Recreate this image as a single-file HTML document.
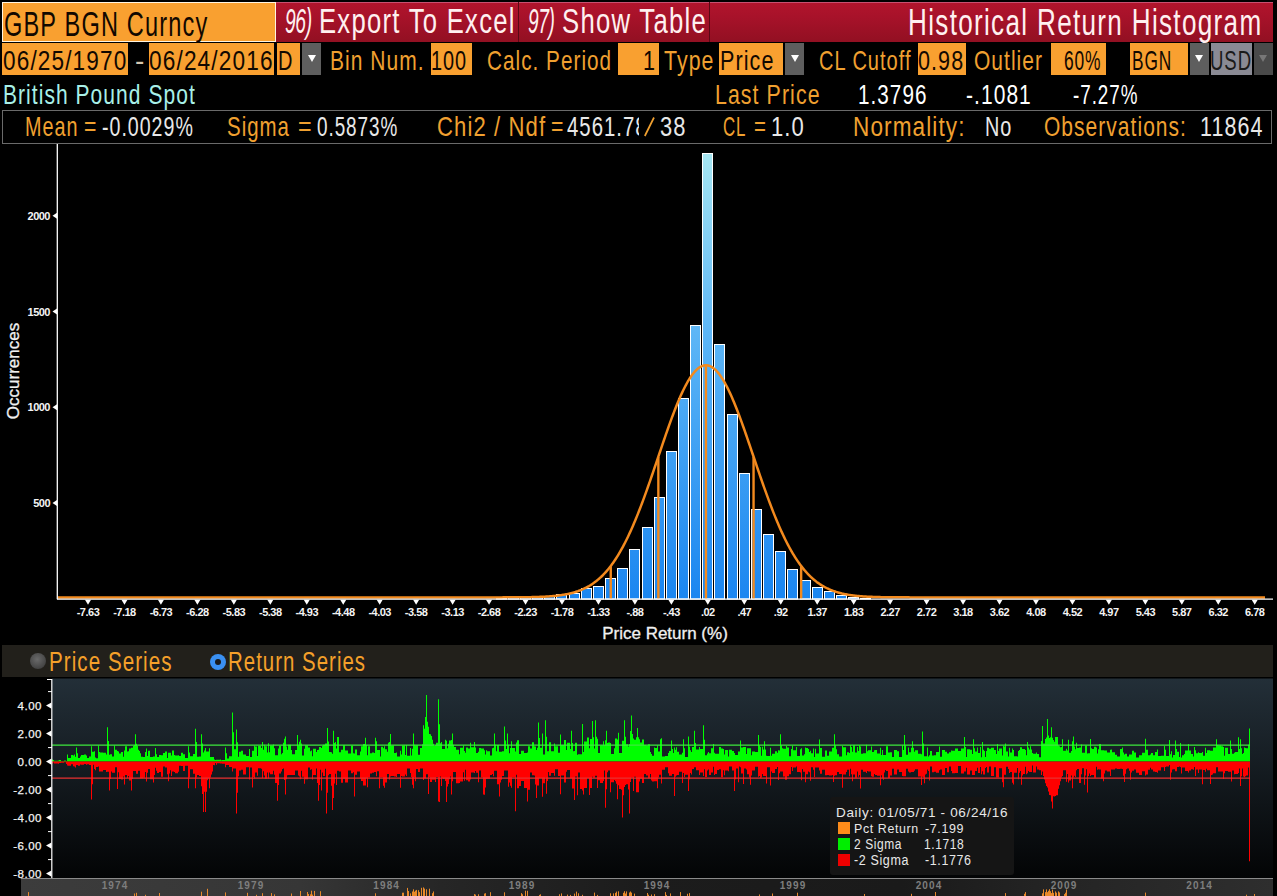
<!DOCTYPE html>
<html><head><meta charset="utf-8"><style>
html,body{margin:0;padding:0;background:#000;width:1277px;height:896px;overflow:hidden;position:relative}
.t{position:absolute;white-space:nowrap;font-family:"Liberation Sans",sans-serif;transform-origin:0 0}
svg text{font-family:"Liberation Sans",sans-serif}
.ax{font-size:11px;font-weight:bold;letter-spacing:-0.5px;fill:#F4F4F4}
.ax2{font-size:11.5px;letter-spacing:0.5px;fill:#F4F4F4;stroke:#F4F4F4;stroke-width:0.25px}
.axt{font-size:17px;fill:#F0F0F0;stroke:#F0F0F0;stroke-width:0.3px}
.yr{font-size:10px;font-weight:bold;letter-spacing:1.1px;fill:#7E7E7E}
</style></head><body>
<div style="position:absolute;left:2px;top:2px;width:274px;height:40px;background:#F9A030;box-sizing:border-box;border:1px solid #FFF4E0;"></div>
<div style="position:absolute;left:276px;top:2px;width:997px;height:40px;background:linear-gradient(#C85070 0px,#C85070 1px,#B0142C 1.5px,#A8122A 14px,#921022 40px);"></div>
<div style="position:absolute;left:518px;top:2px;width:1px;height:40px;background:#5A0814;"></div>
<div style="position:absolute;left:709px;top:2px;width:1px;height:40px;background:#5A0814;"></div>
<div class="t" style="left:3.82px;top:5.64px;font-size:35.36px;line-height:35.36px;color:#120800;transform:scaleX(0.6658);letter-spacing:1.77px;">GBP BGN Curncy</div>
<div class="t" style="left:284.63px;top:4.48px;font-size:34.49px;line-height:34.49px;color:#FFF0F0;transform:scaleX(0.5596);letter-spacing:-0.69px;font-style:italic;">96)</div>
<div class="t" style="left:318.95px;top:4.48px;font-size:34.49px;line-height:34.49px;color:#FFF0F0;transform:scaleX(0.7432);letter-spacing:1.72px;">Export To Excel</div>
<div class="t" style="left:527.74px;top:4.48px;font-size:34.49px;line-height:34.49px;color:#FFF0F0;transform:scaleX(0.5574);letter-spacing:-0.69px;font-style:italic;">97)</div>
<div class="t" style="left:561.72px;top:4.48px;font-size:34.49px;line-height:34.49px;color:#FFF0F0;transform:scaleX(0.7450);letter-spacing:1.72px;">Show Table</div>
<div class="t" style="left:907.91px;top:4.80px;font-size:36.23px;line-height:36.23px;color:#FFF0F0;transform:scaleX(0.7209);letter-spacing:1.81px;">Historical Return Histogram</div>
<div style="position:absolute;left:2px;top:43px;width:125.5px;height:32px;background:#F9A030;"></div>
<div style="position:absolute;left:148.5px;top:43px;width:125.5px;height:32px;background:#F9A030;"></div>
<div style="position:absolute;left:277px;top:43px;width:23px;height:32px;background:#F9A030;"></div>
<div style="position:absolute;left:302px;top:43px;width:19px;height:32px;background:#5E5E5E;"></div>
<div style="position:absolute;left:431px;top:43px;width:40.5px;height:32px;background:#F9A030;"></div>
<div style="position:absolute;left:618px;top:43px;width:41px;height:32px;background:#F9A030;"></div>
<div style="position:absolute;left:719px;top:43px;width:64px;height:32px;background:#F9A030;"></div>
<div style="position:absolute;left:785px;top:43px;width:19px;height:32px;background:#5E5E5E;"></div>
<div style="position:absolute;left:918px;top:43px;width:48px;height:32px;background:#F9A030;"></div>
<div style="position:absolute;left:1051px;top:43px;width:54.5px;height:32px;background:#F9A030;"></div>
<div style="position:absolute;left:1130px;top:43px;width:57.5px;height:32px;background:#F9A030;"></div>
<div style="position:absolute;left:1190px;top:43px;width:18.5px;height:32px;background:#5E5E5E;"></div>
<div style="position:absolute;left:1211px;top:43px;width:40.5px;height:32px;background:#8A8A94;"></div>
<div style="position:absolute;left:1254px;top:43px;width:18.5px;height:32px;background:#4A4A4A;"></div>
<div style="position:absolute;left:307.5px;top:55px;width:0;height:0;border-left:4px solid transparent;border-right:4px solid transparent;border-top:7px solid #FFFFFF;"></div>
<div style="position:absolute;left:790.5px;top:55px;width:0;height:0;border-left:4px solid transparent;border-right:4px solid transparent;border-top:7px solid #FFFFFF;"></div>
<div style="position:absolute;left:1195.3px;top:55px;width:0;height:0;border-left:4px solid transparent;border-right:4px solid transparent;border-top:7px solid #FFFFFF;"></div>
<div style="position:absolute;left:1259.3px;top:55px;width:0;height:0;border-left:4px solid transparent;border-right:4px solid transparent;border-top:7px solid #777;"></div>
<div class="t" style="left:3.20px;top:46.85px;font-size:27.83px;line-height:27.83px;color:#120800;transform:scaleX(0.8116);letter-spacing:1.39px;">06/25/1970</div>
<div class="t" style="left:134.88px;top:46.85px;font-size:27.83px;line-height:27.83px;color:#D8C8B0;transform:scaleX(1.0062);letter-spacing:1.39px;">-</div>
<div class="t" style="left:149.49px;top:46.85px;font-size:27.83px;line-height:27.83px;color:#120800;transform:scaleX(0.8138);letter-spacing:1.39px;">06/24/2016</div>
<div class="t" style="left:278.40px;top:46.85px;font-size:27.83px;line-height:27.83px;color:#120800;transform:scaleX(0.7187);letter-spacing:1.39px;">D</div>
<div class="t" style="left:330.32px;top:46.85px;font-size:27.83px;line-height:27.83px;color:#F0A030;transform:scaleX(0.7539);letter-spacing:1.39px;">Bin Num.</div>
<div class="t" style="left:431.41px;top:46.85px;font-size:27.83px;line-height:27.83px;color:#120800;transform:scaleX(0.7144);letter-spacing:1.39px;">100</div>
<div class="t" style="left:487.27px;top:46.85px;font-size:27.83px;line-height:27.83px;color:#F0A030;transform:scaleX(0.7438);letter-spacing:1.39px;">Calc. Period</div>
<div class="t" style="left:642.97px;top:46.85px;font-size:27.83px;line-height:27.83px;color:#120800;transform:scaleX(0.7773);letter-spacing:1.39px;">1</div>
<div class="t" style="left:663.97px;top:46.85px;font-size:27.83px;line-height:27.83px;color:#F0A030;transform:scaleX(0.7667);letter-spacing:1.39px;">Type</div>
<div class="t" style="left:720.07px;top:46.85px;font-size:27.83px;line-height:27.83px;color:#120800;transform:scaleX(0.7753);letter-spacing:1.39px;">Price</div>
<div class="t" style="left:818.50px;top:46.85px;font-size:27.83px;line-height:27.83px;color:#F0A030;transform:scaleX(0.7195);letter-spacing:1.39px;">CL Cutoff</div>
<div class="t" style="left:917.64px;top:46.85px;font-size:27.83px;line-height:27.83px;color:#120800;transform:scaleX(0.7742);letter-spacing:1.39px;">0.98</div>
<div class="t" style="left:973.95px;top:46.85px;font-size:27.83px;line-height:27.83px;color:#F0A030;transform:scaleX(0.7527);letter-spacing:1.39px;">Outlier</div>
<div class="t" style="left:1064.13px;top:46.85px;font-size:27.83px;line-height:27.83px;color:#120800;transform:scaleX(0.6258);letter-spacing:1.39px;">60%</div>
<div class="t" style="left:1132.32px;top:46.85px;font-size:27.83px;line-height:27.83px;color:#120800;transform:scaleX(0.6212);letter-spacing:1.39px;">BGN</div>
<div class="t" style="left:1209.91px;top:46.85px;font-size:27.83px;line-height:27.83px;color:#1A1A1A;transform:scaleX(0.6672);letter-spacing:1.39px;">USD</div>
<div class="t" style="left:3.02px;top:80.85px;font-size:27.83px;line-height:27.83px;color:#A8F0E8;transform:scaleX(0.7545);letter-spacing:1.39px;">British Pound Spot</div>
<div class="t" style="left:715.29px;top:80.85px;font-size:27.83px;line-height:27.83px;color:#F0A030;transform:scaleX(0.7670);letter-spacing:1.39px;">Last Price</div>
<div class="t" style="left:858.14px;top:80.85px;font-size:27.83px;line-height:27.83px;color:#FFFFFF;transform:scaleX(0.7436);letter-spacing:1.39px;">1.3796</div>
<div class="t" style="left:966.16px;top:80.85px;font-size:27.83px;line-height:27.83px;color:#FFFFFF;transform:scaleX(0.7547);letter-spacing:1.39px;">-.1081</div>
<div class="t" style="left:1072.75px;top:80.85px;font-size:27.83px;line-height:27.83px;color:#FFFFFF;transform:scaleX(0.6768);letter-spacing:1.39px;">-7.27%</div>
<div style="position:absolute;left:2px;top:110px;width:1270px;height:34px;background:#000;box-sizing:border-box;border:1px solid #6A6A6A;"></div>
<div class="t" style="left:24.72px;top:112.77px;font-size:27.68px;line-height:27.68px;color:#F0A030;transform:scaleX(0.7153);letter-spacing:1.38px;">Mean</div>
<div class="t" style="left:83.54px;top:112.77px;font-size:27.68px;line-height:27.68px;color:#F0A030;transform:scaleX(0.7667);letter-spacing:1.38px;">=</div>
<div class="t" style="left:101.61px;top:112.77px;font-size:27.68px;line-height:27.68px;color:#E8E8E8;transform:scaleX(0.7090);letter-spacing:1.38px;">-0.0029%</div>
<div class="t" style="left:227.18px;top:112.77px;font-size:27.68px;line-height:27.68px;color:#F0A030;transform:scaleX(0.7382);letter-spacing:1.38px;">Sigma</div>
<div class="t" style="left:298.44px;top:112.77px;font-size:27.68px;line-height:27.68px;color:#F0A030;transform:scaleX(0.8405);letter-spacing:1.38px;">=</div>
<div class="t" style="left:316.74px;top:112.77px;font-size:27.68px;line-height:27.68px;color:#E8E8E8;transform:scaleX(0.6835);letter-spacing:1.38px;">0.5873%</div>
<div class="t" style="left:436.80px;top:112.77px;font-size:27.68px;line-height:27.68px;color:#F0A030;transform:scaleX(0.7977);letter-spacing:1.38px;">Chi2 / Ndf</div>
<div class="t" style="left:550.54px;top:112.77px;font-size:27.68px;line-height:27.68px;color:#F0A030;transform:scaleX(0.7667);letter-spacing:1.38px;">=</div>
<div style="position:absolute;left:560px;top:112px;width:79px;height:30px;overflow:hidden"><div class="t" style="left:7.19px;top:0.77px;font-size:27.68px;line-height:27.68px;color:#E8E8E8;transform:scaleX(0.7356);letter-spacing:1.38px;">4561.78</div></div>
<svg style="position:absolute;left:0;top:0" width="1277" height="150"><line x1="644.8" y1="136" x2="654" y2="117.5" stroke="#F0A030" stroke-width="1.7"/></svg>
<div class="t" style="left:660.42px;top:112.77px;font-size:27.68px;line-height:27.68px;color:#E8E8E8;transform:scaleX(0.7928);letter-spacing:1.38px;">38</div>
<div class="t" style="left:723.15px;top:112.77px;font-size:27.68px;line-height:27.68px;color:#F0A030;transform:scaleX(0.6118);letter-spacing:1.38px;">CL</div>
<div class="t" style="left:753.98px;top:112.77px;font-size:27.68px;line-height:27.68px;color:#F0A030;transform:scaleX(0.7373);letter-spacing:1.38px;">=</div>
<div class="t" style="left:771.04px;top:112.77px;font-size:27.68px;line-height:27.68px;color:#E8E8E8;transform:scaleX(0.7963);letter-spacing:1.38px;">1.0</div>
<div class="t" style="left:852.50px;top:112.77px;font-size:27.68px;line-height:27.68px;color:#F0A030;transform:scaleX(0.8140);letter-spacing:1.38px;">Normality:</div>
<div class="t" style="left:985.41px;top:112.77px;font-size:27.68px;line-height:27.68px;color:#E8E8E8;transform:scaleX(0.7165);letter-spacing:1.38px;">No</div>
<div class="t" style="left:1043.65px;top:112.77px;font-size:27.68px;line-height:27.68px;color:#F0A030;transform:scaleX(0.7579);letter-spacing:1.38px;">Observations:</div>
<div class="t" style="left:1199.68px;top:112.77px;font-size:27.68px;line-height:27.68px;color:#E8E8E8;transform:scaleX(0.7754);letter-spacing:1.38px;">11864</div>
<div style="position:absolute;left:2px;top:645px;width:1271px;height:32px;background:#22201B;"></div><div style="position:absolute;left:29.6px;top:653.4px;width:16px;height:16px;border-radius:50%;background:radial-gradient(circle at 45% 40%,#6a6a6a,#444 70%,#2a2a2a)"></div><div style="position:absolute;left:209.6px;top:653.5px;width:16px;height:16px;border-radius:50%;background:#3A90F2;box-sizing:border-box;"></div><div style="position:absolute;left:214.6px;top:658.5px;width:6px;height:6px;border-radius:50%;background:#1A1A1A;"></div><div class="t" style="left:49.35px;top:647.50px;font-size:28.12px;line-height:28.12px;color:#F5A02A;transform:scaleX(0.7333);letter-spacing:1.41px;">Price Series</div>
<svg width="1277" height="896" style="position:absolute;left:0;top:0">
<defs><linearGradient id="bg" gradientUnits="userSpaceOnUse" x1="0" y1="153" x2="0" y2="599"><stop offset="0" stop-color="#A6E6F2"/><stop offset="0.4" stop-color="#5DB6F6"/><stop offset="1" stop-color="#1B86F0"/></linearGradient><linearGradient id="lg" x1="0" y1="0" x2="0" y2="1"><stop offset="0" stop-color="#232F38"/><stop offset="1" stop-color="#030405"/></linearGradient></defs>
<rect x="496.50" y="598.50" width="10" height="0.50" fill="url(#bg)" stroke="#FFFFFF" stroke-width="1"/>
<rect x="508.50" y="597.50" width="10" height="1.50" fill="url(#bg)" stroke="#FFFFFF" stroke-width="1"/>
<rect x="520.50" y="597.50" width="10" height="1.50" fill="url(#bg)" stroke="#FFFFFF" stroke-width="1"/>
<rect x="532.50" y="597.50" width="10" height="1.50" fill="url(#bg)" stroke="#FFFFFF" stroke-width="1"/>
<rect x="544.50" y="596.50" width="10" height="2.50" fill="url(#bg)" stroke="#FFFFFF" stroke-width="1"/>
<rect x="556.50" y="594.50" width="10" height="4.50" fill="url(#bg)" stroke="#FFFFFF" stroke-width="1"/>
<rect x="569.50" y="593.50" width="10" height="5.50" fill="url(#bg)" stroke="#FFFFFF" stroke-width="1"/>
<rect x="581.50" y="588.50" width="10" height="10.50" fill="url(#bg)" stroke="#FFFFFF" stroke-width="1"/>
<rect x="593.50" y="586.50" width="10" height="12.50" fill="url(#bg)" stroke="#FFFFFF" stroke-width="1"/>
<rect x="605.50" y="578.50" width="10" height="20.50" fill="url(#bg)" stroke="#FFFFFF" stroke-width="1"/>
<rect x="617.50" y="568.50" width="10" height="30.50" fill="url(#bg)" stroke="#FFFFFF" stroke-width="1"/>
<rect x="629.50" y="549.50" width="10" height="49.50" fill="url(#bg)" stroke="#FFFFFF" stroke-width="1"/>
<rect x="642.50" y="527.50" width="10" height="71.50" fill="url(#bg)" stroke="#FFFFFF" stroke-width="1"/>
<rect x="654.50" y="497.50" width="10" height="101.50" fill="url(#bg)" stroke="#FFFFFF" stroke-width="1"/>
<rect x="666.50" y="451.50" width="10" height="147.50" fill="url(#bg)" stroke="#FFFFFF" stroke-width="1"/>
<rect x="678.50" y="398.50" width="10" height="200.50" fill="url(#bg)" stroke="#FFFFFF" stroke-width="1"/>
<rect x="690.50" y="325.50" width="10" height="273.50" fill="url(#bg)" stroke="#FFFFFF" stroke-width="1"/>
<rect x="702.50" y="153.50" width="10" height="445.50" fill="url(#bg)" stroke="#FFFFFF" stroke-width="1"/>
<rect x="714.50" y="344.50" width="10" height="254.50" fill="url(#bg)" stroke="#FFFFFF" stroke-width="1"/>
<rect x="727.50" y="414.50" width="10" height="184.50" fill="url(#bg)" stroke="#FFFFFF" stroke-width="1"/>
<rect x="739.50" y="473.50" width="10" height="125.50" fill="url(#bg)" stroke="#FFFFFF" stroke-width="1"/>
<rect x="751.50" y="509.50" width="10" height="89.50" fill="url(#bg)" stroke="#FFFFFF" stroke-width="1"/>
<rect x="763.50" y="534.50" width="10" height="64.50" fill="url(#bg)" stroke="#FFFFFF" stroke-width="1"/>
<rect x="775.50" y="551.50" width="10" height="47.50" fill="url(#bg)" stroke="#FFFFFF" stroke-width="1"/>
<rect x="787.50" y="569.50" width="10" height="29.50" fill="url(#bg)" stroke="#FFFFFF" stroke-width="1"/>
<rect x="800.50" y="580.50" width="10" height="18.50" fill="url(#bg)" stroke="#FFFFFF" stroke-width="1"/>
<rect x="812.50" y="587.50" width="10" height="11.50" fill="url(#bg)" stroke="#FFFFFF" stroke-width="1"/>
<rect x="824.50" y="591.50" width="10" height="7.50" fill="url(#bg)" stroke="#FFFFFF" stroke-width="1"/>
<rect x="836.50" y="595.50" width="10" height="3.50" fill="url(#bg)" stroke="#FFFFFF" stroke-width="1"/>
<rect x="848.50" y="597.50" width="10" height="1.50" fill="url(#bg)" stroke="#FFFFFF" stroke-width="1"/>
<rect x="860.50" y="598.50" width="10" height="0.50" fill="url(#bg)" stroke="#FFFFFF" stroke-width="1"/>
<polyline points="58,597.40 59,597.40 60,597.40 61,597.40 62,597.40 63,597.40 64,597.40 65,597.40 66,597.40 67,597.40 68,597.40 69,597.40 70,597.40 71,597.40 72,597.40 73,597.40 74,597.40 75,597.40 76,597.40 77,597.40 78,597.40 79,597.40 80,597.40 81,597.40 82,597.40 83,597.40 84,597.40 85,597.40 86,597.40 87,597.40 88,597.40 89,597.40 90,597.40 91,597.40 92,597.40 93,597.40 94,597.40 95,597.40 96,597.40 97,597.40 98,597.40 99,597.40 100,597.40 101,597.40 102,597.40 103,597.40 104,597.40 105,597.40 106,597.40 107,597.40 108,597.40 109,597.40 110,597.40 111,597.40 112,597.40 113,597.40 114,597.40 115,597.40 116,597.40 117,597.40 118,597.40 119,597.40 120,597.40 121,597.40 122,597.40 123,597.40 124,597.40 125,597.40 126,597.40 127,597.40 128,597.40 129,597.40 130,597.40 131,597.40 132,597.40 133,597.40 134,597.40 135,597.40 136,597.40 137,597.40 138,597.40 139,597.40 140,597.40 141,597.40 142,597.40 143,597.40 144,597.40 145,597.40 146,597.40 147,597.40 148,597.40 149,597.40 150,597.40 151,597.40 152,597.40 153,597.40 154,597.40 155,597.40 156,597.40 157,597.40 158,597.40 159,597.40 160,597.40 161,597.40 162,597.40 163,597.40 164,597.40 165,597.40 166,597.40 167,597.40 168,597.40 169,597.40 170,597.40 171,597.40 172,597.40 173,597.40 174,597.40 175,597.40 176,597.40 177,597.40 178,597.40 179,597.40 180,597.40 181,597.40 182,597.40 183,597.40 184,597.40 185,597.40 186,597.40 187,597.40 188,597.40 189,597.40 190,597.40 191,597.40 192,597.40 193,597.40 194,597.40 195,597.40 196,597.40 197,597.40 198,597.40 199,597.40 200,597.40 201,597.40 202,597.40 203,597.40 204,597.40 205,597.40 206,597.40 207,597.40 208,597.40 209,597.40 210,597.40 211,597.40 212,597.40 213,597.40 214,597.40 215,597.40 216,597.40 217,597.40 218,597.40 219,597.40 220,597.40 221,597.40 222,597.40 223,597.40 224,597.40 225,597.40 226,597.40 227,597.40 228,597.40 229,597.40 230,597.40 231,597.40 232,597.40 233,597.40 234,597.40 235,597.40 236,597.40 237,597.40 238,597.40 239,597.40 240,597.40 241,597.40 242,597.40 243,597.40 244,597.40 245,597.40 246,597.40 247,597.40 248,597.40 249,597.40 250,597.40 251,597.40 252,597.40 253,597.40 254,597.40 255,597.40 256,597.40 257,597.40 258,597.40 259,597.40 260,597.40 261,597.40 262,597.40 263,597.40 264,597.40 265,597.40 266,597.40 267,597.40 268,597.40 269,597.40 270,597.40 271,597.40 272,597.40 273,597.40 274,597.40 275,597.40 276,597.40 277,597.40 278,597.40 279,597.40 280,597.40 281,597.40 282,597.40 283,597.40 284,597.40 285,597.40 286,597.40 287,597.40 288,597.40 289,597.40 290,597.40 291,597.40 292,597.40 293,597.40 294,597.40 295,597.40 296,597.40 297,597.40 298,597.40 299,597.40 300,597.40 301,597.40 302,597.40 303,597.40 304,597.40 305,597.40 306,597.40 307,597.40 308,597.40 309,597.40 310,597.40 311,597.40 312,597.40 313,597.40 314,597.40 315,597.40 316,597.40 317,597.40 318,597.40 319,597.40 320,597.40 321,597.40 322,597.40 323,597.40 324,597.40 325,597.40 326,597.40 327,597.40 328,597.40 329,597.40 330,597.40 331,597.40 332,597.40 333,597.40 334,597.40 335,597.40 336,597.40 337,597.40 338,597.40 339,597.40 340,597.40 341,597.40 342,597.40 343,597.40 344,597.40 345,597.40 346,597.40 347,597.40 348,597.40 349,597.40 350,597.40 351,597.40 352,597.40 353,597.40 354,597.40 355,597.40 356,597.40 357,597.40 358,597.40 359,597.40 360,597.40 361,597.40 362,597.40 363,597.40 364,597.40 365,597.40 366,597.40 367,597.40 368,597.40 369,597.40 370,597.40 371,597.40 372,597.40 373,597.40 374,597.40 375,597.40 376,597.40 377,597.40 378,597.40 379,597.40 380,597.40 381,597.40 382,597.40 383,597.40 384,597.40 385,597.40 386,597.40 387,597.40 388,597.40 389,597.40 390,597.40 391,597.40 392,597.40 393,597.40 394,597.40 395,597.40 396,597.40 397,597.40 398,597.40 399,597.40 400,597.40 401,597.40 402,597.40 403,597.40 404,597.40 405,597.40 406,597.40 407,597.40 408,597.40 409,597.40 410,597.40 411,597.40 412,597.40 413,597.40 414,597.40 415,597.40 416,597.40 417,597.40 418,597.40 419,597.40 420,597.40 421,597.40 422,597.40 423,597.40 424,597.40 425,597.40 426,597.40 427,597.40 428,597.40 429,597.40 430,597.40 431,597.40 432,597.40 433,597.40 434,597.40 435,597.40 436,597.40 437,597.40 438,597.40 439,597.40 440,597.40 441,597.40 442,597.40 443,597.40 444,597.40 445,597.40 446,597.40 447,597.40 448,597.40 449,597.40 450,597.40 451,597.40 452,597.40 453,597.40 454,597.40 455,597.40 456,597.40 457,597.40 458,597.40 459,597.40 460,597.40 461,597.40 462,597.40 463,597.40 464,597.40 465,597.40 466,597.40 467,597.40 468,597.40 469,597.40 470,597.40 471,597.40 472,597.40 473,597.40 474,597.40 475,597.40 476,597.40 477,597.40 478,597.40 479,597.40 480,597.40 481,597.40 482,597.40 483,597.40 484,597.40 485,597.40 486,597.39 487,597.39 488,597.39 489,597.39 490,597.39 491,597.39 492,597.39 493,597.39 494,597.39 495,597.39 496,597.39 497,597.38 498,597.38 499,597.38 500,597.38 501,597.38 502,597.38 503,597.37 504,597.37 505,597.37 506,597.37 507,597.36 508,597.36 509,597.36 510,597.35 511,597.35 512,597.34 513,597.34 514,597.33 515,597.33 516,597.32 517,597.31 518,597.30 519,597.30 520,597.29 521,597.28 522,597.27 523,597.26 524,597.24 525,597.23 526,597.22 527,597.20 528,597.19 529,597.17 530,597.15 531,597.13 532,597.11 533,597.08 534,597.06 535,597.03 536,597.00 537,596.97 538,596.94 539,596.91 540,596.87 541,596.83 542,596.78 543,596.74 544,596.69 545,596.64 546,596.58 547,596.52 548,596.46 549,596.39 550,596.32 551,596.24 552,596.16 553,596.07 554,595.98 555,595.88 556,595.77 557,595.66 558,595.55 559,595.42 560,595.29 561,595.15 562,595.00 563,594.85 564,594.68 565,594.50 566,594.32 567,594.12 568,593.92 569,593.70 570,593.47 571,593.23 572,592.97 573,592.70 574,592.42 575,592.12 576,591.81 577,591.48 578,591.14 579,590.77 580,590.39 581,590.00 582,589.58 583,589.14 584,588.68 585,588.20 586,587.70 587,587.17 588,586.62 589,586.05 590,585.45 591,584.83 592,584.18 593,583.50 594,582.79 595,582.05 596,581.29 597,580.49 598,579.66 599,578.80 600,577.90 601,576.98 602,576.01 603,575.01 604,573.98 605,572.90 606,571.79 607,570.65 608,569.46 609,568.23 610,566.96 611,565.65 612,564.30 613,562.91 614,561.47 615,559.99 616,558.47 617,556.90 618,555.29 619,553.63 620,551.93 621,550.18 622,548.39 623,546.55 624,544.66 625,542.73 626,540.76 627,538.74 628,536.67 629,534.56 630,532.40 631,530.20 632,527.96 633,525.67 634,523.34 635,520.96 636,518.55 637,516.10 638,513.60 639,511.07 640,508.50 641,505.90 642,503.26 643,500.58 644,497.88 645,495.14 646,492.38 647,489.59 648,486.77 649,483.93 650,481.06 651,478.18 652,475.28 653,472.37 654,469.44 655,466.50 656,463.56 657,460.60 658,457.65 659,454.69 660,451.73 661,448.78 662,445.84 663,442.90 664,439.98 665,437.08 666,434.19 667,431.32 668,428.48 669,425.67 670,422.88 671,420.13 672,417.41 673,414.74 674,412.10 675,409.51 676,406.97 677,404.48 678,402.04 679,399.66 680,397.34 681,395.08 682,392.89 683,390.76 684,388.70 685,386.72 686,384.81 687,382.98 688,381.22 689,379.55 690,377.97 691,376.46 692,375.05 693,373.73 694,372.50 695,371.36 696,370.31 697,369.36 698,368.51 699,367.76 700,367.11 701,366.55 702,366.10 703,365.75 704,365.50 705,365.35 706,365.30 707,365.36 708,365.52 709,365.78 710,366.14 711,366.61 712,367.17 713,367.84 714,368.60 715,369.46 716,370.42 717,371.48 718,372.63 719,373.87 720,375.20 721,376.63 722,378.14 723,379.73 724,381.41 725,383.17 726,385.01 727,386.93 728,388.93 729,390.99 730,393.12 731,395.33 732,397.59 733,399.92 734,402.31 735,404.75 736,407.25 737,409.80 738,412.39 739,415.03 740,417.71 741,420.43 742,423.19 743,425.97 744,428.79 745,431.64 746,434.50 747,437.39 748,440.30 749,443.23 750,446.16 751,449.11 752,452.06 753,455.01 754,457.97 755,460.93 756,463.88 757,466.83 758,469.76 759,472.69 760,475.60 761,478.50 762,481.38 763,484.24 764,487.08 765,489.89 766,492.68 767,495.44 768,498.18 769,500.88 770,503.55 771,506.18 772,508.79 773,511.35 774,513.88 775,516.37 776,518.82 777,521.23 778,523.59 779,525.92 780,528.20 781,530.44 782,532.64 783,534.79 784,536.90 785,538.96 786,540.98 787,542.95 788,544.87 789,546.75 790,548.59 791,550.37 792,552.12 793,553.81 794,555.47 795,557.07 796,558.64 797,560.15 798,561.63 799,563.06 800,564.45 801,565.80 802,567.10 803,568.37 804,569.59 805,570.77 806,571.92 807,573.02 808,574.09 809,575.12 810,576.12 811,577.08 812,578.00 813,578.89 814,579.75 815,580.58 816,581.37 817,582.14 818,582.87 819,583.57 820,584.25 821,584.90 822,585.52 823,586.11 824,586.69 825,587.23 826,587.75 827,588.25 828,588.73 829,589.19 830,589.62 831,590.04 832,590.44 833,590.82 834,591.18 835,591.52 836,591.85 837,592.16 838,592.45 839,592.73 840,593.00 841,593.25 842,593.50 843,593.72 844,593.94 845,594.15 846,594.34 847,594.52 848,594.70 849,594.86 850,595.02 851,595.17 852,595.30 853,595.44 854,595.56 855,595.68 856,595.79 857,595.89 858,595.99 859,596.08 860,596.17 861,596.25 862,596.32 863,596.40 864,596.46 865,596.53 866,596.59 867,596.64 868,596.69 869,596.74 870,596.79 871,596.83 872,596.87 873,596.91 874,596.94 875,596.98 876,597.01 877,597.04 878,597.06 879,597.09 880,597.11 881,597.13 882,597.15 883,597.17 884,597.19 885,597.20 886,597.22 887,597.23 888,597.25 889,597.26 890,597.27 891,597.28 892,597.29 893,597.30 894,597.31 895,597.31 896,597.32 897,597.33 898,597.33 899,597.34 900,597.34 901,597.35 902,597.35 903,597.36 904,597.36 905,597.36 906,597.37 907,597.37 908,597.37 909,597.37 910,597.38 911,597.38 912,597.38 913,597.38 914,597.38 915,597.38 916,597.39 917,597.39 918,597.39 919,597.39 920,597.39 921,597.39 922,597.39 923,597.39 924,597.39 925,597.39 926,597.39 927,597.40 928,597.40 929,597.40 930,597.40 931,597.40 932,597.40 933,597.40 934,597.40 935,597.40 936,597.40 937,597.40 938,597.40 939,597.40 940,597.40 941,597.40 942,597.40 943,597.40 944,597.40 945,597.40 946,597.40 947,597.40 948,597.40 949,597.40 950,597.40 951,597.40 952,597.40 953,597.40 954,597.40 955,597.40 956,597.40 957,597.40 958,597.40 959,597.40 960,597.40 961,597.40 962,597.40 963,597.40 964,597.40 965,597.40 966,597.40 967,597.40 968,597.40 969,597.40 970,597.40 971,597.40 972,597.40 973,597.40 974,597.40 975,597.40 976,597.40 977,597.40 978,597.40 979,597.40 980,597.40 981,597.40 982,597.40 983,597.40 984,597.40 985,597.40 986,597.40 987,597.40 988,597.40 989,597.40 990,597.40 991,597.40 992,597.40 993,597.40 994,597.40 995,597.40 996,597.40 997,597.40 998,597.40 999,597.40 1000,597.40 1001,597.40 1002,597.40 1003,597.40 1004,597.40 1005,597.40 1006,597.40 1007,597.40 1008,597.40 1009,597.40 1010,597.40 1011,597.40 1012,597.40 1013,597.40 1014,597.40 1015,597.40 1016,597.40 1017,597.40 1018,597.40 1019,597.40 1020,597.40 1021,597.40 1022,597.40 1023,597.40 1024,597.40 1025,597.40 1026,597.40 1027,597.40 1028,597.40 1029,597.40 1030,597.40 1031,597.40 1032,597.40 1033,597.40 1034,597.40 1035,597.40 1036,597.40 1037,597.40 1038,597.40 1039,597.40 1040,597.40 1041,597.40 1042,597.40 1043,597.40 1044,597.40 1045,597.40 1046,597.40 1047,597.40 1048,597.40 1049,597.40 1050,597.40 1051,597.40 1052,597.40 1053,597.40 1054,597.40 1055,597.40 1056,597.40 1057,597.40 1058,597.40 1059,597.40 1060,597.40 1061,597.40 1062,597.40 1063,597.40 1064,597.40 1065,597.40 1066,597.40 1067,597.40 1068,597.40 1069,597.40 1070,597.40 1071,597.40 1072,597.40 1073,597.40 1074,597.40 1075,597.40 1076,597.40 1077,597.40 1078,597.40 1079,597.40 1080,597.40 1081,597.40 1082,597.40 1083,597.40 1084,597.40 1085,597.40 1086,597.40 1087,597.40 1088,597.40 1089,597.40 1090,597.40 1091,597.40 1092,597.40 1093,597.40 1094,597.40 1095,597.40 1096,597.40 1097,597.40 1098,597.40 1099,597.40 1100,597.40 1101,597.40 1102,597.40 1103,597.40 1104,597.40 1105,597.40 1106,597.40 1107,597.40 1108,597.40 1109,597.40 1110,597.40 1111,597.40 1112,597.40 1113,597.40 1114,597.40 1115,597.40 1116,597.40 1117,597.40 1118,597.40 1119,597.40 1120,597.40 1121,597.40 1122,597.40 1123,597.40 1124,597.40 1125,597.40 1126,597.40 1127,597.40 1128,597.40 1129,597.40 1130,597.40 1131,597.40 1132,597.40 1133,597.40 1134,597.40 1135,597.40 1136,597.40 1137,597.40 1138,597.40 1139,597.40 1140,597.40 1141,597.40 1142,597.40 1143,597.40 1144,597.40 1145,597.40 1146,597.40 1147,597.40 1148,597.40 1149,597.40 1150,597.40 1151,597.40 1152,597.40 1153,597.40 1154,597.40 1155,597.40 1156,597.40 1157,597.40 1158,597.40 1159,597.40 1160,597.40 1161,597.40 1162,597.40 1163,597.40 1164,597.40 1165,597.40 1166,597.40 1167,597.40 1168,597.40 1169,597.40 1170,597.40 1171,597.40 1172,597.40 1173,597.40 1174,597.40 1175,597.40 1176,597.40 1177,597.40 1178,597.40 1179,597.40 1180,597.40 1181,597.40 1182,597.40 1183,597.40 1184,597.40 1185,597.40 1186,597.40 1187,597.40 1188,597.40 1189,597.40 1190,597.40 1191,597.40 1192,597.40 1193,597.40 1194,597.40 1195,597.40 1196,597.40 1197,597.40 1198,597.40 1199,597.40 1200,597.40 1201,597.40 1202,597.40 1203,597.40 1204,597.40 1205,597.40 1206,597.40 1207,597.40 1208,597.40 1209,597.40 1210,597.40 1211,597.40 1212,597.40 1213,597.40 1214,597.40 1215,597.40 1216,597.40 1217,597.40 1218,597.40 1219,597.40 1220,597.40 1221,597.40 1222,597.40 1223,597.40 1224,597.40 1225,597.40 1226,597.40 1227,597.40 1228,597.40 1229,597.40 1230,597.40 1231,597.40 1232,597.40 1233,597.40 1234,597.40 1235,597.40 1236,597.40 1237,597.40 1238,597.40 1239,597.40 1240,597.40 1241,597.40 1242,597.40 1243,597.40 1244,597.40 1245,597.40 1246,597.40 1247,597.40 1248,597.40 1249,597.40 1250,597.40 1251,597.40 1252,597.40 1253,597.40 1254,597.40 1255,597.40 1256,597.40 1257,597.40 1258,597.40 1259,597.40 1260,597.40 1261,597.40 1262,597.40 1263,597.40 1264,597.40 1265,597.40" fill="none" stroke="#F38A1E" stroke-width="2.5"/>
<line x1="610.75" y1="566.39" x2="610.75" y2="598.8" stroke="#F38A1E" stroke-width="2.4"/>
<line x1="658.35" y1="457.03" x2="658.35" y2="598.8" stroke="#F38A1E" stroke-width="2.4"/>
<line x1="705.95" y1="365.70" x2="705.95" y2="598.8" stroke="#F38A1E" stroke-width="2.4"/>
<line x1="753.55" y1="457.03" x2="753.55" y2="598.8" stroke="#F38A1E" stroke-width="2.4"/>
<line x1="801.15" y1="566.39" x2="801.15" y2="598.8" stroke="#F38A1E" stroke-width="2.4"/>
<line x1="57.3" y1="144" x2="57.3" y2="599.3" stroke="#FFFFFF" stroke-width="1.3"/>
<line x1="57" y1="599.1999999999999" x2="1273" y2="599.1999999999999" stroke="#FFFFFF" stroke-width="1.3"/>
<path d="M52.5,503.05 L57,500.05 L57,506.05 Z" fill="#FFFFFF"/>
<text x="50" y="507.05" text-anchor="end" class="ax">500</text>
<path d="M52.5,407.30 L57,404.30 L57,410.30 Z" fill="#FFFFFF"/>
<text x="50" y="411.30" text-anchor="end" class="ax">1000</text>
<path d="M52.5,311.55 L57,308.55 L57,314.55 Z" fill="#FFFFFF"/>
<text x="50" y="315.55" text-anchor="end" class="ax">1500</text>
<path d="M52.5,215.80 L57,212.80 L57,218.80 Z" fill="#FFFFFF"/>
<text x="50" y="219.80" text-anchor="end" class="ax">2000</text>
<path d="M85.00,599.8 L91.00,599.8 L88.00,604.8 Z" fill="#FFFFFF"/>
<text x="88.00" y="615.8" text-anchor="middle" class="ax">-7.63</text>
<path d="M121.46,599.8 L127.46,599.8 L124.46,604.8 Z" fill="#FFFFFF"/>
<text x="124.46" y="615.8" text-anchor="middle" class="ax">-7.18</text>
<path d="M157.92,599.8 L163.92,599.8 L160.92,604.8 Z" fill="#FFFFFF"/>
<text x="160.92" y="615.8" text-anchor="middle" class="ax">-6.73</text>
<path d="M194.38,599.8 L200.38,599.8 L197.38,604.8 Z" fill="#FFFFFF"/>
<text x="197.38" y="615.8" text-anchor="middle" class="ax">-6.28</text>
<path d="M230.84,599.8 L236.84,599.8 L233.84,604.8 Z" fill="#FFFFFF"/>
<text x="233.84" y="615.8" text-anchor="middle" class="ax">-5.83</text>
<path d="M267.30,599.8 L273.30,599.8 L270.30,604.8 Z" fill="#FFFFFF"/>
<text x="270.30" y="615.8" text-anchor="middle" class="ax">-5.38</text>
<path d="M303.76,599.8 L309.76,599.8 L306.76,604.8 Z" fill="#FFFFFF"/>
<text x="306.76" y="615.8" text-anchor="middle" class="ax">-4.93</text>
<path d="M340.22,599.8 L346.22,599.8 L343.22,604.8 Z" fill="#FFFFFF"/>
<text x="343.22" y="615.8" text-anchor="middle" class="ax">-4.48</text>
<path d="M376.68,599.8 L382.68,599.8 L379.68,604.8 Z" fill="#FFFFFF"/>
<text x="379.68" y="615.8" text-anchor="middle" class="ax">-4.03</text>
<path d="M413.14,599.8 L419.14,599.8 L416.14,604.8 Z" fill="#FFFFFF"/>
<text x="416.14" y="615.8" text-anchor="middle" class="ax">-3.58</text>
<path d="M449.60,599.8 L455.60,599.8 L452.60,604.8 Z" fill="#FFFFFF"/>
<text x="452.60" y="615.8" text-anchor="middle" class="ax">-3.13</text>
<path d="M486.06,599.8 L492.06,599.8 L489.06,604.8 Z" fill="#FFFFFF"/>
<text x="489.06" y="615.8" text-anchor="middle" class="ax">-2.68</text>
<path d="M522.52,599.8 L528.52,599.8 L525.52,604.8 Z" fill="#FFFFFF"/>
<text x="525.52" y="615.8" text-anchor="middle" class="ax">-2.23</text>
<path d="M558.98,599.8 L564.98,599.8 L561.98,604.8 Z" fill="#FFFFFF"/>
<text x="561.98" y="615.8" text-anchor="middle" class="ax">-1.78</text>
<path d="M595.44,599.8 L601.44,599.8 L598.44,604.8 Z" fill="#FFFFFF"/>
<text x="598.44" y="615.8" text-anchor="middle" class="ax">-1.33</text>
<path d="M631.90,599.8 L637.90,599.8 L634.90,604.8 Z" fill="#FFFFFF"/>
<text x="634.90" y="615.8" text-anchor="middle" class="ax">-.88</text>
<path d="M668.36,599.8 L674.36,599.8 L671.36,604.8 Z" fill="#FFFFFF"/>
<text x="671.36" y="615.8" text-anchor="middle" class="ax">-.43</text>
<path d="M704.82,599.8 L710.82,599.8 L707.82,604.8 Z" fill="#FFFFFF"/>
<text x="707.82" y="615.8" text-anchor="middle" class="ax">.02</text>
<path d="M741.28,599.8 L747.28,599.8 L744.28,604.8 Z" fill="#FFFFFF"/>
<text x="744.28" y="615.8" text-anchor="middle" class="ax">.47</text>
<path d="M777.74,599.8 L783.74,599.8 L780.74,604.8 Z" fill="#FFFFFF"/>
<text x="780.74" y="615.8" text-anchor="middle" class="ax">.92</text>
<path d="M814.20,599.8 L820.20,599.8 L817.20,604.8 Z" fill="#FFFFFF"/>
<text x="817.20" y="615.8" text-anchor="middle" class="ax">1.37</text>
<path d="M850.66,599.8 L856.66,599.8 L853.66,604.8 Z" fill="#FFFFFF"/>
<text x="853.66" y="615.8" text-anchor="middle" class="ax">1.83</text>
<path d="M887.12,599.8 L893.12,599.8 L890.12,604.8 Z" fill="#FFFFFF"/>
<text x="890.12" y="615.8" text-anchor="middle" class="ax">2.27</text>
<path d="M923.58,599.8 L929.58,599.8 L926.58,604.8 Z" fill="#FFFFFF"/>
<text x="926.58" y="615.8" text-anchor="middle" class="ax">2.72</text>
<path d="M960.04,599.8 L966.04,599.8 L963.04,604.8 Z" fill="#FFFFFF"/>
<text x="963.04" y="615.8" text-anchor="middle" class="ax">3.18</text>
<path d="M996.50,599.8 L1002.50,599.8 L999.50,604.8 Z" fill="#FFFFFF"/>
<text x="999.50" y="615.8" text-anchor="middle" class="ax">3.62</text>
<path d="M1032.96,599.8 L1038.96,599.8 L1035.96,604.8 Z" fill="#FFFFFF"/>
<text x="1035.96" y="615.8" text-anchor="middle" class="ax">4.08</text>
<path d="M1069.42,599.8 L1075.42,599.8 L1072.42,604.8 Z" fill="#FFFFFF"/>
<text x="1072.42" y="615.8" text-anchor="middle" class="ax">4.52</text>
<path d="M1105.88,599.8 L1111.88,599.8 L1108.88,604.8 Z" fill="#FFFFFF"/>
<text x="1108.88" y="615.8" text-anchor="middle" class="ax">4.97</text>
<path d="M1142.34,599.8 L1148.34,599.8 L1145.34,604.8 Z" fill="#FFFFFF"/>
<text x="1145.34" y="615.8" text-anchor="middle" class="ax">5.43</text>
<path d="M1178.80,599.8 L1184.80,599.8 L1181.80,604.8 Z" fill="#FFFFFF"/>
<text x="1181.80" y="615.8" text-anchor="middle" class="ax">5.87</text>
<path d="M1215.26,599.8 L1221.26,599.8 L1218.26,604.8 Z" fill="#FFFFFF"/>
<text x="1218.26" y="615.8" text-anchor="middle" class="ax">6.32</text>
<path d="M1251.72,599.8 L1257.72,599.8 L1254.72,604.8 Z" fill="#FFFFFF"/>
<text x="1254.72" y="615.8" text-anchor="middle" class="ax">6.78</text>
<text x="665" y="638.5" text-anchor="middle" class="axt">Price Return (%)</text>
<text transform="translate(18.5,371) rotate(-90)" text-anchor="middle" class="axt">Occurrences</text>
<rect x="52" y="678.5" width="1221" height="199.5" fill="url(#lg)"/>
<path d="M52,761.6V759.5H53V759.9H54V760.8H55V760.8H56V760.8H57V760.8H58V760.6H59V759.9H60V759.9H61V761.0H62V761.0H63V761.0H64V760.5H65V760.5H66V760.9H67V754.5H68V757.9H69V757.9H70V757.9H71V754.9H72V754.9H73V755.4H74V754.6H75V756.7H76V747.6H77V753.2H78V758.1H79V758.1H80V756.6H81V755.1H82V755.1H83V755.1H84V754.5H85V754.5H86V755.5H87V757.9H88V757.9H89V756.4H90V756.4H91V746.2H92V751.7H93V751.7H94V751.2H95V757.6H96V758.3H97V758.3H98V745.6H99V752.0H100V752.5H101V752.5H102V752.5H103V752.7H104V752.7H105V752.7H106V754.4H107V727.2H108V740.9H109V754.8H110V754.3H111V754.3H112V756.4H113V756.4H114V745.4H115V749.8H116V749.8H117V750.9H118V751.6H119V753.6H120V753.6H121V752.1H122V752.1H123V756.8H124V750.5H125V746.3H126V746.3H127V751.4H128V751.3H129V748.6H130V748.6H131V747.8H132V747.8H133V746.1H134V744.9H135V734.3H136V743.8H137V746.1H138V749.7H139V750.9H140V753.2H141V756.8H142V756.8H143V757.1H144V757.1H145V752.1H146V748.4H147V756.1H148V750.7H149V750.7H150V757.0H151V757.0H152V757.0H153V756.5H154V756.5H155V748.0H156V754.2H157V757.0H158V757.0H159V755.0H160V755.0H161V755.3H162V755.3H163V753.1H164V753.1H165V751.6H166V751.6H167V758.1H168V752.8H169V752.8H170V752.8H171V755.4H172V750.5H173V750.5H174V755.1H175V755.4H176V755.4H177V755.4H178V755.2H179V756.1H180V756.1H181V752.8H182V752.8H183V754.2H184V754.2H185V758.0H186V758.0H187V758.0H188V746.2H189V752.4H190V756.2H191V756.2H192V756.2H193V753.9H194V753.9H195V728.7H196V741.9H197V756.8H198V756.8H199V756.4H200V756.4H201V734.3H202V743.6H203V752.5H204V750.6H205V748.0H206V751.6H207V751.6H208V751.6H209V748.3H210V756.9H211V757.1H212V757.1H213V757.1H214V759.5H215V760.0H216V759.8H217V759.7H218V759.7H219V759.7H220V759.4H221V760.2H222V760.0H223V760.0H224V760.0H225V747.6H226V753.2H227V758.6H228V758.6H229V756.2H230V756.2H231V756.2H232V712.6H233V732.2H234V749.2H235V749.2H236V729.4H237V742.3H238V756.8H239V751.7H240V751.7H241V750.7H242V750.7H243V754.4H244V754.4H245V754.4H246V756.0H247V756.0H248V756.0H249V749.0H250V756.9H251V756.9H252V750.7H253V750.7H254V745.8H255V746.6H256V746.6H257V756.1H258V746.1H259V746.1H260V746.1H261V748.0H262V742.0H263V749.8H264V744.8H265V746.2H266V746.2H267V752.5H268V743.3H269V752.3H270V745.5H271V745.5H272V745.5H273V744.6H274V748.2H275V755.2H276V755.2H277V755.2H278V748.4H279V745.7H280V745.7H281V754.3H282V752.9H283V742.7H284V738.8H285V736.4H286V746.5H287V749.8H288V744.8H289V744.8H290V744.8H291V750.1H292V754.2H293V754.2H294V754.2H295V749.9H296V749.9H297V735.0H298V745.6H299V741.8H300V739.7H301V743.6H302V755.5H303V755.5H304V748.7H305V745.2H306V745.2H307V745.2H308V747.5H309V747.5H310V751.2H311V750.5H312V756.3H313V748.8H314V748.8H315V748.8H316V752.0H317V749.9H318V749.7H319V747.0H320V747.0H321V748.0H322V746.1H323V744.8H324V744.8H325V743.4H326V743.4H327V728.0H328V741.4H329V751.9H330V751.9H331V752.3H332V753.8H333V730.8H334V743.1H335V742.1H336V748.6H337V737.0H338V737.0H339V752.2H340V752.2H341V749.8H342V749.8H343V745.3H344V745.3H345V750.6H346V750.6H347V750.6H348V753.4H349V753.4H350V753.4H351V745.7H352V745.7H353V753.3H354V753.4H355V749.6H356V749.6H357V755.3H358V755.3H359V755.3H360V751.5H361V746.2H362V746.2H363V744.1H364V744.1H365V737.8H366V745.0H367V755.2H368V746.2H369V746.2H370V753.2H371V753.2H372V752.4H373V752.4H374V752.9H375V737.8H376V741.2H377V750.1H378V750.1H379V750.1H380V756.5H381V746.8H382V746.8H383V748.2H384V746.3H385V749.2H386V749.2H387V751.7H388V742.7H389V742.1H390V734.0H391V745.6H392V745.6H393V745.6H394V753.1H395V753.1H396V752.4H397V756.5H398V756.5H399V756.5H400V750.7H401V754.4H402V745.6H403V745.6H404V745.6H405V754.9H406V745.1H407V755.7H408V755.7H409V755.7H410V748.0H411V755.4H412V748.8H413V733.6H414V744.8H415V745.6H416V745.2H417V745.2H418V754.7H419V754.7H420V748.0H421V748.0H422V744.3H423V725.2H424V728.7H425V717.1H426V695.1H427V721.7H428V726.7H429V734.1H430V734.3H431V735.9H432V739.8H433V743.7H434V746.0H435V744.9H436V742.7H437V742.7H438V699.3H439V724.2H440V743.3H441V742.0H442V749.0H443V749.0H444V749.0H445V739.8H446V740.7H447V748.2H448V743.8H449V740.6H450V740.6H451V740.1H452V733.6H453V744.8H454V746.9H455V746.9H456V749.8H457V749.8H458V749.8H459V754.2H460V747.7H461V747.7H462V747.7H463V745.4H464V750.9H465V752.7H466V747.5H467V747.5H468V748.5H469V748.5H470V742.8H471V747.3H472V747.3H473V747.3H474V742.1H475V747.6H476V753.0H477V753.0H478V751.7H479V747.9H480V747.9H481V748.4H482V748.4H483V748.4H484V750.3H485V754.6H486V750.2H487V751.2H488V751.2H489V751.2H490V755.6H491V755.6H492V748.2H493V747.7H494V733.6H495V744.8H496V751.2H497V745.1H498V745.1H499V751.8H500V751.8H501V751.8H502V751.2H503V751.2H504V726.6H505V740.6H506V749.1H507V733.6H508V744.8H509V753.2H510V748.1H511V741.2H512V748.0H513V748.0H514V748.0H515V751.5H516V742.6H517V740.3H518V740.3H519V754.1H520V754.1H521V750.8H522V750.8H523V750.8H524V753.0H525V753.0H526V753.0H527V752.4H528V746.2H529V746.2H530V748.5H531V748.5H532V742.3H533V742.3H534V746.2H535V746.4H536V750.0H537V747.8H538V722.4H539V738.1H540V747.7H541V747.7H542V733.5H543V754.4H544V754.4H545V720.3H546V736.8H547V751.3H548V751.3H549V742.3H550V742.3H551V751.2H552V751.2H553V751.2H554V743.5H555V746.2H556V746.2H557V746.2H558V752.8H559V752.8H560V734.5H561V744.9H562V744.9H563V744.9H564V740.0H565V740.0H566V750.0H567V742.8H568V742.8H569V742.8H570V748.9H571V730.8H572V743.1H573V751.2H574V751.0H575V742.7H576V742.7H577V754.7H578V754.2H579V754.2H580V754.2H581V754.2H582V724.1H583V751.9H584V741.5H585V741.5H586V741.5H587V737.5H588V737.5H589V748.2H590V738.9H591V738.9H592V721.0H593V737.2H594V748.6H595V720.3H596V736.8H597V738.8H598V752.9H599V752.9H600V745.2H601V745.2H602V745.2H603V741.2H604V745.1H605V740.2H606V730.8H607V743.1H608V742.4H609V742.4H610V743.0H611V753.9H612V753.9H613V753.9H614V748.3H615V738.6H616V738.6H617V739.5H618V732.7H619V753.1H620V753.1H621V753.1H622V740.7H623V740.7H624V720.3H625V736.8H626V744.2H627V744.2H628V746.6H629V743.9H630V731.1H631V715.4H632V733.9H633V738.4H634V739.8H635V739.8H636V737.3H637V728.0H638V737.3H639V739.2H640V742.5H641V742.5H642V739.6H643V739.6H644V744.9H645V744.9H646V745.5H647V745.5H648V744.3H649V744.3H650V752.1H651V754.1H652V755.8H653V755.8H654V747.4H655V747.9H656V747.9H657V745.6H658V751.5H659V751.5H660V739.2H661V738.2H662V756.5H663V756.5H664V756.5H665V756.0H666V756.0H667V756.0H668V752.9H669V751.0H670V751.0H671V740.6H672V749.0H673V753.0H674V747.5H675V749.8H676V747.3H677V751.8H678V751.8H679V754.5H680V754.5H681V754.5H682V752.7H683V739.2H684V748.2H685V757.1H686V757.1H687V757.1H688V736.4H689V746.5H690V750.3H691V752.0H692V747.0H693V747.0H694V730.8H695V743.1H696V749.6H697V749.6H698V749.6H699V747.1H700V749.0H701V749.0H702V749.0H703V725.2H704V739.8H705V755.3H706V755.3H707V753.6H708V751.9H709V753.3H710V753.3H711V748.3H712V748.3H713V744.0H714V752.7H715V753.8H716V753.8H717V753.8H718V753.8H719V746.9H720V746.9H721V748.6H722V748.6H723V749.0H724V754.4H725V750.0H726V750.0H727V750.0H728V756.6H729V749.8H730V749.8H731V749.8H732V750.9H733V750.9H734V752.9H735V754.9H736V754.9H737V754.9H738V751.4H739V751.5H740V740.6H741V747.4H742V747.4H743V747.0H744V747.1H745V747.1H746V754.0H747V748.2H748V748.2H749V748.2H750V748.2H751V755.3H752V751.6H753V751.6H754V751.6H755V751.9H756V751.9H757V751.9H758V735.0H759V745.6H760V747.1H761V755.8H762V746.8H763V749.4H764V741.3H765V749.4H766V755.7H767V756.0H768V756.0H769V756.0H770V747.7H771V755.7H772V753.8H773V753.8H774V753.8H775V751.3H776V751.3H777V752.7H778V750.2H779V750.4H780V734.3H781V745.2H782V748.3H783V748.7H784V748.7H785V748.7H786V746.0H787V747.5H788V747.5H789V756.3H790V756.3H791V749.1H792V745.8H793V750.2H794V750.2H795V750.2H796V747.0H797V756.0H798V756.0H799V756.0H800V749.2H801V748.2H802V755.4H803V755.5H804V754.3H805V747.5H806V747.9H807V747.9H808V749.0H809V752.1H810V750.8H811V753.2H812V753.2H813V748.4H814V756.9H815V748.7H816V753.6H817V753.6H818V753.6H819V739.4H820V747.9H821V747.9H822V756.8H823V756.8H824V756.8H825V750.6H826V750.6H827V755.8H828V755.8H829V751.6H830V751.6H831V751.6H832V747.8H833V747.8H834V734.3H835V745.2H836V749.2H837V754.3H838V754.3H839V756.5H840V756.5H841V756.5H842V746.0H843V747.2H844V747.2H845V747.2H846V755.2H847V752.3H848V752.3H849V752.9H850V745.0H851V746.9H852V751.8H853V745.2H854V745.2H855V752.6H856V752.6H857V746.9H858V751.1H859V745.4H860V746.5H861V753.8H862V753.8H863V753.2H864V753.2H865V753.2H866V744.8H867V751.2H868V750.2H869V750.2H870V750.2H871V746.6H872V751.9H873V751.9H874V750.3H875V750.1H876V750.1H877V753.6H878V753.6H879V753.6H880V747.8H881V755.0H882V749.9H883V754.9H884V754.9H885V754.9H886V746.3H887V746.3H888V752.5H889V752.5H890V752.3H891V752.3H892V757.0H893V757.0H894V749.9H895V749.9H896V749.9H897V751.2H898V751.2H899V757.1H900V757.1H901V757.1H902V745.5H903V750.1H904V735.0H905V745.6H906V754.7H907V754.7H908V747.6H909V752.3H910V752.3H911V747.8H912V741.3H913V747.8H914V751.8H915V750.2H916V750.2H917V750.2H918V753.7H919V753.7H920V753.7H921V754.2H922V731.5H923V743.5H924V756.2H925V756.2H926V756.2H927V747.6H928V756.6H929V755.3H930V750.9H931V750.9H932V755.4H933V755.4H934V755.2H935V755.2H936V752.1H937V752.1H938V752.1H939V746.5H940V756.7H941V756.7H942V749.9H943V749.9H944V749.9H945V751.8H946V751.8H947V753.6H948V753.6H949V752.3H950V752.3H951V750.6H952V750.7H953V750.7H954V750.7H955V748.4H956V748.4H957V748.4H958V750.9H959V750.9H960V750.9H961V748.6H962V748.6H963V748.6H964V737.1H965V746.9H966V756.9H967V749.3H968V749.3H969V749.3H970V749.7H971V749.7H972V754.1H973V739.2H974V748.2H975V751.4H976V751.4H977V747.5H978V753.1H979V753.1H980V747.0H981V757.3H982V742.0H983V749.8H984V751.1H985V757.1H986V750.9H987V747.8H988V747.8H989V748.7H990V748.7H991V747.8H992V747.8H993V747.8H994V749.9H995V749.9H996V753.9H997V744.1H998V751.1H999V748.4H1000V748.4H1001V748.4H1002V755.6H1003V745.9H1004V746.6H1005V743.6H1006V751.4H1007V751.4H1008V756.6H1009V747.8H1010V752.4H1011V752.4H1012V748.5H1013V750.1H1014V756.2H1015V756.2H1016V756.2H1017V756.5H1018V750.9H1019V750.0H1020V747.2H1021V747.2H1022V748.9H1023V748.9H1024V748.9H1025V750.0H1026V755.3H1027V742.1H1028V747.5H1029V749.6H1030V746.2H1031V749.6H1032V753.0H1033V753.7H1034V753.7H1035V753.7H1036V752.5H1037V753.9H1038V753.9H1039V757.2H1040V757.2H1041V741.1H1042V726.0H1043V743.6H1044V743.6H1045V739.0H1046V737.5H1047V718.9H1048V735.4H1049V737.9H1050V737.2H1051V727.3H1052V737.7H1053V739.9H1054V741.8H1055V737.1H1056V737.1H1057V737.1H1058V745.3H1059V746.2H1060V747.2H1061V747.0H1062V739.2H1063V750.7H1064V750.7H1065V750.7H1066V748.8H1067V750.5H1068V739.7H1069V752.8H1070V752.8H1071V751.0H1072V741.3H1073V736.4H1074V746.5H1075V749.2H1076V742.7H1077V747.9H1078V747.9H1079V747.5H1080V747.5H1081V744.5H1082V752.8H1083V752.8H1084V752.8H1085V745.6H1086V745.6H1087V753.6H1088V753.3H1089V753.3H1090V739.0H1091V748.2H1092V749.0H1093V749.0H1094V746.8H1095V746.8H1096V747.6H1097V753.5H1098V749.2H1099V744.1H1100V744.1H1101V750.2H1102V750.2H1103V750.2H1104V750.4H1105V750.4H1106V750.4H1107V752.6H1108V752.6H1109V752.6H1110V749.7H1111V749.6H1112V752.2H1113V752.2H1114V752.2H1115V754.8H1116V754.8H1117V756.4H1118V756.4H1119V756.4H1120V749.1H1121V749.1H1122V747.4H1123V752.5H1124V754.4H1125V753.8H1126V753.8H1127V756.6H1128V756.6H1129V754.6H1130V754.6H1131V754.6H1132V750.7H1133V750.7H1134V752.5H1135V752.5H1136V757.5H1137V757.5H1138V757.5H1139V755.2H1140V755.2H1141V755.2H1142V752.8H1143V752.8H1144V752.8H1145V738.8H1146V749.7H1147V749.7H1148V755.3H1149V755.3H1150V754.5H1151V753.0H1152V753.0H1153V755.3H1154V755.3H1155V751.9H1156V751.9H1157V749.4H1158V756.1H1159V756.1H1160V756.1H1161V755.8H1162V755.8H1163V755.8H1164V746.1H1165V749.7H1166V756.0H1167V756.0H1168V756.0H1169V739.9H1170V754.2H1171V751.2H1172V757.4H1173V755.0H1174V755.0H1175V740.6H1176V749.0H1177V751.7H1178V751.7H1179V757.1H1180V743.1H1181V757.6H1182V755.2H1183V755.2H1184V754.1H1185V750.4H1186V750.4H1187V750.4H1188V743.9H1189V750.4H1190V750.4H1191V754.1H1192V754.1H1193V756.6H1194V747.0H1195V750.3H1196V753.3H1197V753.3H1198V752.3H1199V753.1H1200V753.1H1201V753.1H1202V752.0H1203V755.7H1204V755.7H1205V747.7H1206V753.0H1207V750.3H1208V750.3H1209V750.3H1210V750.7H1211V750.7H1212V750.7H1213V747.4H1214V747.4H1215V747.4H1216V739.2H1217V745.0H1218V745.4H1219V745.4H1220V745.4H1221V746.3H1222V746.3H1223V747.1H1224V755.8H1225V747.7H1226V747.7H1227V747.7H1228V754.0H1229V754.0H1230V740.6H1231V749.0H1232V753.8H1233V753.8H1234V752.7H1235V751.9H1236V751.9H1237V751.9H1238V737.3H1239V748.9H1240V739.2H1241V748.2H1242V754.0H1243V752.9H1244V747.5H1245V748.0H1246V748.3H1247V748.3H1248V744.7H1249V728.6H1250V761.6Z" fill="#00FF00"/>
<path d="M52,761.6V763.6H53V762.4H54V763.5H55V763.5H56V763.5H57V763.5H58V763.8H59V763.1H60V763.1H61V762.8H62V762.8H63V762.8H64V762.2H65V762.2H66V764.1H67V765.5H68V765.8H69V765.8H70V765.8H71V764.3H72V764.3H73V766.2H74V766.6H75V767.6H76V765.1H77V765.1H78V765.7H79V765.7H80V764.5H81V764.7H82V764.7H83V764.7H84V764.1H85V764.1H86V764.7H87V764.2H88V764.2H89V764.9H90V764.9H91V799.4H92V784.3H93V764.7H94V769.1H95V770.2H96V766.9H97V766.9H98V766.5H99V771.5H100V771.5H101V771.5H102V771.5H103V769.9H104V769.9H105V769.9H106V771.9H107V771.7H108V771.7H109V790.4H110V778.9H111V771.5H112V772.8H113V772.8H114V772.8H115V767.3H116V767.3H117V789.1H118V772.3H119V779.0H120V779.0H121V779.5H122V779.5H123V776.4H124V784.5H125V775.1H126V775.1H127V778.0H128V776.0H129V780.5H130V780.5H131V790.4H132V778.9H133V771.1H134V771.1H135V771.1H136V773.7H137V773.7H138V770.8H139V770.8H140V778.3H141V778.3H142V778.3H143V777.8H144V777.8H145V772.0H146V781.6H147V772.8H148V768.9H149V768.9H150V779.3H151V779.3H152V779.3H153V782.6H154V774.9H155V767.7H156V770.8H157V773.1H158V773.1H159V772.0H160V772.0H161V776.7H162V776.7H163V766.6H164V766.6H165V767.4H166V767.4H167V774.2H168V781.2H169V773.4H170V770.3H171V775.9H172V771.6H173V771.6H174V771.9H175V773.3H176V773.3H177V773.3H178V771.7H179V765.8H180V765.8H181V766.1H182V766.1H183V771.1H184V771.1H185V765.7H186V765.7H187V765.7H188V788.2H189V777.6H190V769.2H191V769.2H192V769.2H193V773.7H194V773.7H195V788.2H196V777.6H197V774.9H198V774.9H199V776.1H200V776.1H201V786.2H202V794.0H203V812.0H204V791.8H205V812.0H206V791.8H207V780.3H208V778.3H209V788.2H210V777.6H211V774.4H212V771.5H213V765.0H214V765.3H215V762.9H216V764.8H217V763.3H218V763.3H219V763.3H220V763.4H221V763.6H222V763.7H223V763.7H224V763.7H225V767.2H226V765.0H227V765.0H228V765.0H229V767.0H230V767.0H231V767.0H232V771.4H233V768.6H234V768.6H235V768.6H236V813.4H237V792.7H238V776.2H239V770.5H240V770.5H241V769.8H242V769.8H243V774.5H244V774.5H245V774.5H246V767.2H247V767.2H248V767.2H249V779.6H250V767.6H251V767.6H252V787.5H253V777.1H254V778.4H255V772.5H256V772.5H257V775.8H258V768.3H259V768.3H260V768.3H261V768.8H262V778.0H263V771.2H264V775.6H265V778.8H266V778.8H267V772.5H268V778.5H269V772.6H270V774.3H271V774.3H272V774.3H273V770.8H274V774.7H275V783.1H276V783.1H277V800.8H278V785.1H279V773.4H280V773.4H281V771.6H282V769.1H283V768.6H284V780.1H285V794.4H286V779.2H287V775.2H288V775.1H289V775.1H290V775.1H291V774.9H292V774.9H293V774.9H294V774.9H295V770.4H296V770.4H297V770.4H298V775.6H299V776.5H300V779.2H301V770.7H302V776.8H303V776.8H304V783.7H305V779.2H306V779.2H307V779.2H308V767.4H309V767.4H310V769.8H311V769.2H312V779.5H313V775.0H314V775.0H315V775.0H316V768.5H317V782.9H318V800.8H319V785.1H320V769.7H321V790.5H322V772.4H323V775.9H324V775.9H325V768.7H326V813.4H327V792.7H328V775.2H329V773.9H330V773.9H331V785.7H332V810.0H333V798.0H334V783.4H335V773.8H336V785.1H337V770.8H338V770.8H339V771.5H340V771.5H341V782.7H342V782.7H343V778.7H344V778.7H345V782.6H346V782.6H347V782.6H348V770.5H349V770.5H350V770.5H351V773.3H352V773.3H353V772.2H354V796.4H355V774.8H356V774.8H357V771.4H358V771.4H359V771.4H360V778.5H361V781.0H362V781.0H363V785.4H364V785.4H365V785.4H366V778.2H367V787.2H368V777.5H369V777.5H370V773.6H371V773.6H372V772.7H373V772.7H374V771.9H375V771.9H376V776.3H377V771.3H378V771.3H379V788.2H380V777.6H381V777.4H382V777.4H383V785.8H384V787.7H385V782.4H386V782.4H387V774.1H388V774.1H389V779.5H390V776.4H391V776.0H392V776.0H393V776.0H394V776.5H395V776.5H396V777.1H397V774.1H398V774.1H399V774.1H400V787.7H401V775.9H402V776.5H403V776.5H404V776.5H405V774.5H406V776.0H407V768.5H408V768.5H409V768.5H410V772.9H411V776.9H412V784.8H413V788.2H414V777.6H415V781.3H416V768.9H417V768.9H418V771.9H419V771.9H420V768.5H421V768.5H422V768.5H423V779.9H424V778.3H425V778.3H426V774.2H427V774.2H428V794.0H429V777.3H430V782.0H431V782.0H432V779.7H433V779.7H434V779.7H435V782.0H436V777.0H437V777.0H438V801.5H439V802.1H440V776.5H441V785.9H442V777.9H443V778.9H444V778.7H445V780.9H446V801.9H447V786.5H448V784.0H449V779.2H450V776.5H451V794.5H452V781.3H453V772.0H454V772.0H455V772.0H456V783.3H457V783.3H458V783.3H459V783.0H460V781.4H461V781.4H462V781.4H463V772.2H464V780.8H465V769.8H466V780.3H467V780.3H468V781.5H469V781.5H470V779.4H471V772.5H472V772.5H473V772.5H474V772.9H475V770.9H476V772.7H477V772.7H478V782.3H479V770.4H480V770.4H481V777.5H482V777.5H483V794.5H484V794.8H485V787.5H486V779.0H487V778.8H488V778.8H489V778.8H490V775.0H491V775.0H492V773.9H493V776.3H494V770.8H495V770.8H496V770.8H497V784.2H498V784.2H499V796.6H500V782.6H501V779.7H502V775.9H503V775.9H504V770.5H505V770.6H506V770.6H507V770.6H508V786.8H509V782.5H510V785.8H511V787.7H512V777.4H513V777.4H514V777.4H515V811.2H516V774.7H517V788.2H518V788.2H519V785.9H520V785.9H521V781.1H522V781.1H523V781.1H524V788.0H525V788.0H526V788.0H527V801.5H528V789.7H529V789.7H530V772.6H531V772.6H532V775.2H533V775.2H534V775.6H535V784.6H536V798.0H537V785.6H538V785.6H539V778.0H540V778.0H541V778.0H542V796.7H543V783.3H544V783.3H545V777.8H546V793.8H547V780.9H548V771.9H549V775.7H550V775.7H551V773.0H552V773.0H553V773.0H554V775.7H555V769.2H556V769.2H557V769.2H558V776.0H559V776.0H560V794.3H561V775.5H562V775.5H563V775.5H564V782.5H565V782.5H566V771.7H567V770.1H568V770.1H569V770.1H570V778.2H571V778.2H572V788.4H573V788.4H574V799.9H575V776.4H576V776.4H577V795.3H578V772.6H579V772.6H580V788.9H581V788.9H582V790.5H583V794.5H584V788.0H585V788.0H586V788.0H587V778.0H588V778.0H589V794.9H590V787.9H591V787.9H592V776.8H593V777.8H594V777.8H595V775.7H596V775.7H597V788.0H598V780.3H599V780.3H600V783.0H601V783.0H602V783.0H603V781.1H604V770.5H605V807.8H606V789.3H607V772.3H608V770.6H609V770.6H610V792.2H611V782.3H612V782.3H613V782.3H614V779.9H615V781.3H616V783.7H617V799.2H618V785.2H619V789.0H620V789.0H621V789.7H622V817.6H623V795.2H624V787.1H625V785.1H626V784.3H627V784.3H628V789.5H629V813.5H630V782.1H631V777.7H632V777.7H633V790.9H634V776.7H635V776.7H636V792.2H637V792.2H638V792.2H639V781.6H640V778.4H641V778.4H642V782.9H643V782.9H644V773.9H645V773.9H646V775.5H647V775.5H648V778.2H649V778.2H650V774.1H651V780.6H652V781.5H653V781.5H654V781.3H655V781.2H656V781.2H657V788.2H658V777.6H659V774.8H660V774.8H661V783.6H662V769.8H663V769.8H664V769.8H665V767.3H666V767.3H667V767.3H668V773.2H669V775.8H670V775.8H671V775.8H672V773.9H673V773.9H674V796.0H675V776.7H676V775.5H677V774.9H678V774.9H679V771.8H680V771.8H681V771.8H682V783.0H683V772.9H684V777.0H685V774.8H686V774.8H687V774.8H688V791.0H689V779.2H690V773.1H691V774.4H692V768.9H693V768.9H694V767.2H695V767.2H696V770.3H697V770.3H698V770.3H699V775.0H700V772.5H701V772.5H702V772.5H703V775.9H704V769.2H705V777.1H706V777.1H707V770.6H708V769.6H709V775.0H710V775.0H711V772.6H712V772.6H713V766.8H714V774.9H715V774.1H716V774.1H717V770.1H718V770.1H719V769.2H720V769.2H721V777.3H722V777.3H723V770.2H724V775.2H725V770.4H726V770.4H727V770.4H728V771.3H729V766.4H730V766.4H731V766.4H732V770.6H733V770.6H734V791.0H735V779.2H736V768.6H737V768.6H738V782.2H739V766.4H740V767.2H741V773.5H742V773.5H743V784.0H744V768.5H745V768.5H746V769.5H747V774.3H748V774.3H749V777.4H750V784.7H751V775.5H752V770.5H753V770.5H754V770.5H755V766.8H756V766.8H757V766.8H758V776.8H759V776.1H760V777.9H761V777.5H762V773.9H763V775.9H764V775.9H765V775.9H766V783.6H767V767.3H768V767.3H769V767.3H770V785.5H771V771.6H772V773.1H773V773.1H774V773.1H775V768.9H776V768.9H777V766.9H778V780.1H779V773.3H780V771.5H781V771.5H782V771.5H783V776.6H784V776.6H785V779.8H786V779.8H787V776.3H788V776.3H789V774.2H790V774.2H791V767.1H792V771.0H793V767.6H794V767.6H795V767.6H796V766.5H797V772.1H798V772.1H799V772.1H800V772.4H801V780.2H802V769.1H803V771.7H804V771.8H805V782.2H806V774.3H807V774.3H808V771.4H809V772.2H810V780.8H811V767.3H812V767.3H813V769.7H814V776.9H815V767.5H816V767.4H817V767.4H818V767.4H819V770.4H820V773.7H821V773.7H822V769.7H823V769.7H824V769.7H825V775.2H826V775.2H827V774.9H828V774.9H829V775.4H830V775.4H831V775.4H832V775.0H833V781.9H834V775.8H835V775.2H836V775.2H837V771.9H838V771.9H839V773.9H840V773.9H841V773.9H842V787.8H843V774.6H844V774.6H845V774.6H846V772.0H847V769.8H848V769.8H849V776.2H850V768.7H851V774.2H852V781.2H853V774.6H854V774.6H855V777.8H856V777.8H857V771.5H858V776.7H859V775.1H860V788.5H861V769.8H862V769.8H863V771.8H864V771.8H865V771.8H866V773.1H867V771.0H868V771.6H869V771.6H870V771.6H871V776.2H872V776.8H873V776.8H874V774.1H875V775.1H876V775.1H877V775.7H878V775.7H879V775.7H880V785.2H881V775.2H882V778.2H883V779.8H884V772.5H885V769.9H886V771.1H887V771.1H888V777.9H889V777.9H890V775.5H891V775.5H892V768.8H893V768.8H894V774.6H895V774.6H896V774.6H897V769.6H898V769.6H899V772.1H900V772.1H901V772.1H902V775.9H903V776.2H904V776.2H905V776.2H906V768.8H907V768.8H908V771.4H909V772.4H910V772.4H911V772.0H912V772.0H913V772.0H914V770.7H915V769.3H916V769.3H917V769.3H918V776.6H919V776.6H920V776.6H921V785.1H922V776.7H923V777.5H924V783.3H925V774.6H926V773.7H927V769.5H928V771.1H929V780.4H930V766.5H931V766.5H932V772.3H933V772.3H934V771.7H935V771.7H936V772.8H937V772.8H938V772.8H939V770.2H940V769.5H941V769.5H942V775.0H943V775.0H944V775.0H945V767.9H946V767.9H947V772.2H948V772.2H949V766.5H950V766.5H951V770.9H952V773.3H953V773.3H954V773.3H955V773.1H956V773.1H957V773.1H958V766.1H959V766.1H960V766.1H961V773.4H962V773.4H963V773.4H964V771.6H965V771.6H966V767.7H967V774.6H968V774.6H969V774.6H970V770.4H971V770.4H972V775.1H973V775.1H974V775.1H975V771.1H976V771.1H977V767.8H978V772.9H979V772.9H980V766.9H981V774.3H982V771.3H983V774.4H984V774.4H985V768.1H986V767.1H987V772.5H988V772.5H989V766.6H990V766.6H991V776.0H992V776.0H993V776.0H994V767.3H995V767.3H996V777.4H997V777.4H998V777.4H999V768.3H1000V768.3H1001V768.3H1002V782.3H1003V787.2H1004V774.8H1005V774.8H1006V766.8H1007V766.8H1008V768.9H1009V773.0H1010V772.0H1011V772.0H1012V782.8H1013V784.5H1014V772.8H1015V772.8H1016V772.8H1017V767.9H1018V779.3H1019V772.7H1020V771.0H1021V784.7H1022V775.5H1023V773.9H1024V773.9H1025V766.7H1026V774.2H1027V773.2H1028V771.0H1029V772.0H1030V772.0H1031V772.0H1032V765.4H1033V772.5H1034V772.5H1035V772.5H1036V766.6H1037V769.6H1038V769.6H1039V770.3H1040V770.3H1041V775.1H1042V771.5H1043V776.0H1044V779.5H1045V783.2H1046V786.0H1047V787.6H1048V791.4H1049V795.0H1050V795.2H1051V801.4H1052V808.5H1053V796.3H1054V796.6H1055V796.1H1056V795.2H1057V795.2H1058V788.7H1059V785.2H1060V781.2H1061V777.5H1062V776.1H1063V770.3H1064V770.3H1065V770.3H1066V781.7H1067V774.0H1068V782.6H1069V780.6H1070V780.6H1071V775.4H1072V788.2H1073V777.6H1074V775.7H1075V776.9H1076V770.2H1077V769.1H1078V769.1H1079V783.0H1080V783.0H1081V774.3H1082V768.2H1083V768.2H1084V784.7H1085V775.5H1086V769.2H1087V792.4H1088V775.9H1089V773.6H1090V775.9H1091V775.0H1092V775.0H1093V775.0H1094V777.8H1095V777.8H1096V766.8H1097V769.8H1098V769.3H1099V769.5H1100V769.5H1101V778.6H1102V778.6H1103V781.2H1104V773.4H1105V770.5H1106V770.5H1107V771.4H1108V771.4H1109V771.4H1110V775.9H1111V769.4H1112V769.6H1113V769.6H1114V769.6H1115V768.4H1116V768.4H1117V769.1H1118V769.1H1119V769.1H1120V768.8H1121V768.8H1122V769.0H1123V775.7H1124V781.9H1125V773.8H1126V769.2H1127V768.4H1128V768.4H1129V770.8H1130V779.8H1131V772.5H1132V770.7H1133V770.7H1134V769.5H1135V769.5H1136V772.8H1137V772.8H1138V772.8H1139V775.0H1140V775.0H1141V775.0H1142V771.2H1143V771.2H1144V771.2H1145V775.4H1146V774.4H1147V774.4H1148V769.7H1149V769.7H1150V767.7H1151V769.5H1152V769.5H1153V771.6H1154V771.6H1155V771.9H1156V771.9H1157V772.7H1158V770.5H1159V770.5H1160V770.5H1161V767.2H1162V767.2H1163V767.2H1164V771.1H1165V767.1H1166V766.6H1167V766.6H1168V766.6H1169V765.1H1170V779.8H1171V772.5H1172V769.6H1173V769.3H1174V769.3H1175V771.2H1176V771.2H1177V766.9H1178V766.9H1179V766.5H1180V767.0H1181V773.4H1182V767.6H1183V767.6H1184V767.5H1185V771.0H1186V771.0H1187V771.0H1188V772.6H1189V770.6H1190V770.6H1191V769.3H1192V769.3H1193V769.8H1194V767.1H1195V775.9H1196V769.5H1197V769.5H1198V773.1H1199V769.4H1200V769.4H1201V769.4H1202V784.2H1203V769.9H1204V769.9H1205V771.7H1206V768.7H1207V770.2H1208V770.2H1209V770.2H1210V784.0H1211V775.0H1212V774.4H1213V773.3H1214V773.3H1215V773.3H1216V767.3H1217V767.3H1218V771.6H1219V771.6H1220V771.6H1221V771.4H1222V771.4H1223V779.1H1224V773.3H1225V770.9H1226V770.9H1227V770.9H1228V771.8H1229V771.8H1230V771.8H1231V781.5H1232V770.4H1233V770.4H1234V774.2H1235V773.9H1236V773.9H1237V773.9H1238V773.0H1239V768.5H1240V786.1H1241V776.3H1242V768.6H1243V776.5H1244V777.2H1245V776.2H1246V775.4H1247V775.4H1248V767.5H1249V861.3H1250V761.6Z" fill="#FF0000"/>
<line x1="52" y1="745.2" x2="1250" y2="745.2" stroke="#3EE83E" stroke-width="1.2"/>
<line x1="52" y1="778.1" x2="1250" y2="778.1" stroke="#E83030" stroke-width="1.2"/>
<line x1="51.8" y1="679" x2="51.8" y2="878" stroke="#FFFFFF" stroke-width="1.2"/>
<path d="M46,873.60 L51.5,870.40 L51.5,876.80 Z" fill="#FFFFFF"/>
<text x="42" y="877.70" text-anchor="end" class="ax2">-8.00</text>
<line x1="48" y1="859.60" x2="52" y2="859.60" stroke="#FFFFFF" stroke-width="1"/>
<path d="M46,845.60 L51.5,842.40 L51.5,848.80 Z" fill="#FFFFFF"/>
<text x="42" y="849.70" text-anchor="end" class="ax2">-6.00</text>
<line x1="48" y1="831.60" x2="52" y2="831.60" stroke="#FFFFFF" stroke-width="1"/>
<path d="M46,817.60 L51.5,814.40 L51.5,820.80 Z" fill="#FFFFFF"/>
<text x="42" y="821.70" text-anchor="end" class="ax2">-4.00</text>
<line x1="48" y1="803.60" x2="52" y2="803.60" stroke="#FFFFFF" stroke-width="1"/>
<path d="M46,789.60 L51.5,786.40 L51.5,792.80 Z" fill="#FFFFFF"/>
<text x="42" y="793.70" text-anchor="end" class="ax2">-2.00</text>
<line x1="48" y1="775.60" x2="52" y2="775.60" stroke="#FFFFFF" stroke-width="1"/>
<path d="M46,761.60 L51.5,758.40 L51.5,764.80 Z" fill="#FFFFFF"/>
<text x="42" y="765.70" text-anchor="end" class="ax2">0.00</text>
<line x1="48" y1="747.60" x2="52" y2="747.60" stroke="#FFFFFF" stroke-width="1"/>
<path d="M46,733.60 L51.5,730.40 L51.5,736.80 Z" fill="#FFFFFF"/>
<text x="42" y="737.70" text-anchor="end" class="ax2">2.00</text>
<line x1="48" y1="719.60" x2="52" y2="719.60" stroke="#FFFFFF" stroke-width="1"/>
<path d="M46,705.60 L51.5,702.40 L51.5,708.80 Z" fill="#FFFFFF"/>
<text x="42" y="709.70" text-anchor="end" class="ax2">4.00</text>
<line x1="48" y1="691.60" x2="52" y2="691.60" stroke="#FFFFFF" stroke-width="1"/>
<line x1="47" y1="679.5" x2="52" y2="679.5" stroke="#FFFFFF" stroke-width="1"/>
</svg>
<div class="t" style="left:228.37px;top:647.50px;font-size:28.12px;line-height:28.12px;color:#F5A02A;transform:scaleX(0.7259);letter-spacing:1.41px;">Return Series</div><div style="position:absolute;left:830px;top:797px;width:184px;height:78px;background:#161616;border-radius:3px;opacity:0.97"></div><div style="position:absolute;left:838px;top:822px;width:12px;height:12px;background:#FF8C1A;"></div><div style="position:absolute;left:838px;top:838px;width:12px;height:12px;background:#00EE00;"></div><div style="position:absolute;left:838px;top:854px;width:12px;height:12px;background:#EE0000;"></div><div class="t" style="left:836.12px;top:806.32px;font-size:13.62px;line-height:13.62px;color:#E8E8E8;transform:scaleX(0.9919);letter-spacing:0.68px;">Daily: 01/05/71 - 06/24/16</div><div class="t" style="left:853.51px;top:821.82px;font-size:13.62px;line-height:13.62px;color:#E8E8E8;transform:scaleX(0.9121);letter-spacing:0.68px;">Pct Return</div><div class="t" style="left:924.50px;top:821.82px;font-size:13.62px;line-height:13.62px;color:#E8E8E8;transform:scaleX(0.9176);letter-spacing:0.68px;">-7.199</div><div class="t" style="left:853.90px;top:837.80px;font-size:13.77px;line-height:13.77px;color:#E8E8E8;transform:scaleX(0.8690);letter-spacing:0.69px;">2 Sigma</div><div class="t" style="left:923.64px;top:837.80px;font-size:13.77px;line-height:13.77px;color:#E8E8E8;transform:scaleX(0.8725);letter-spacing:0.69px;">1.1718</div><div class="t" style="left:854.00px;top:853.80px;font-size:13.77px;line-height:13.77px;color:#E8E8E8;transform:scaleX(0.9079);letter-spacing:0.69px;">-2 Sigma</div><div class="t" style="left:924.50px;top:853.80px;font-size:13.77px;line-height:13.77px;color:#E8E8E8;transform:scaleX(0.9054);letter-spacing:0.69px;">-1.1776</div><div style="position:absolute;left:21px;top:878px;width:1252px;height:18px;background:linear-gradient(90deg,#3c3c3c 0px,#363636 280px,#262626 420px,#1c1c1c 620px,#1a1a1a 880px,#242424 1030px,#2e2e2e 1252px)"></div><div style="position:absolute;left:21px;top:878px;width:1252px;height:1px;background:#8a8a8a"></div>
<svg width="1277" height="896" style="position:absolute;left:0;top:0;pointer-events:none">
<rect x="28" y="892.1" width="1" height="3.9" fill="#E8892A"/><rect x="134" y="893.5" width="1" height="2.5" fill="#E8892A"/><rect x="136" y="892.8" width="1" height="3.2" fill="#E8892A"/><rect x="145" y="894.8" width="1" height="1.2" fill="#E8892A"/><rect x="159" y="893.0" width="1" height="3.0" fill="#E8892A"/><rect x="201" y="891.7" width="1" height="4.3" fill="#E8892A"/><rect x="207" y="888.8" width="1" height="7.2" fill="#E8892A"/><rect x="225" y="892.4" width="1" height="3.6" fill="#E8892A"/><rect x="247" y="892.8" width="1" height="3.2" fill="#E8892A"/><rect x="256" y="894.8" width="1" height="1.2" fill="#E8892A"/><rect x="262" y="893.2" width="1" height="2.8" fill="#E8892A"/><rect x="271" y="893.1" width="1" height="2.9" fill="#E8892A"/><rect x="274" y="894.4" width="1" height="1.6" fill="#E8892A"/><rect x="291" y="893.5" width="1" height="2.5" fill="#E8892A"/><rect x="300" y="891.0" width="1" height="5.0" fill="#E8892A"/><rect x="307" y="892.0" width="1" height="4.0" fill="#E8892A"/><rect x="308" y="894.0" width="1" height="2.0" fill="#E8892A"/><rect x="310" y="894.3" width="1" height="1.7" fill="#E8892A"/><rect x="311" y="890.7" width="1" height="5.3" fill="#E8892A"/><rect x="312" y="894.6" width="1" height="1.4" fill="#E8892A"/><rect x="314" y="890.9" width="1" height="5.1" fill="#E8892A"/><rect x="320" y="891.2" width="1" height="4.8" fill="#E8892A"/><rect x="375" y="893.3" width="1" height="2.7" fill="#E8892A"/><rect x="402" y="892.7" width="1" height="3.3" fill="#E8892A"/><rect x="403" y="892.7" width="1" height="3.3" fill="#E8892A"/><rect x="407" y="887.9" width="1" height="8.1" fill="#E8892A"/><rect x="408" y="891.0" width="1" height="5.0" fill="#E8892A"/><rect x="410" y="893.4" width="1" height="2.6" fill="#E8892A"/><rect x="412" y="891.5" width="1" height="4.5" fill="#E8892A"/><rect x="413" y="889.3" width="1" height="6.7" fill="#E8892A"/><rect x="414" y="891.7" width="1" height="4.3" fill="#E8892A"/><rect x="415" y="890.6" width="1" height="5.4" fill="#E8892A"/><rect x="416" y="889.9" width="1" height="6.1" fill="#E8892A"/><rect x="418" y="890.2" width="1" height="5.8" fill="#E8892A"/><rect x="419" y="892.1" width="1" height="3.9" fill="#E8892A"/><rect x="421" y="887.8" width="1" height="8.2" fill="#E8892A"/><rect x="423" y="887.4" width="1" height="8.6" fill="#E8892A"/><rect x="424" y="888.6" width="1" height="7.4" fill="#E8892A"/><rect x="426" y="889.3" width="1" height="6.7" fill="#E8892A"/><rect x="429" y="888.7" width="1" height="7.3" fill="#E8892A"/><rect x="432" y="893.2" width="1" height="2.8" fill="#E8892A"/><rect x="433" y="891.5" width="1" height="4.5" fill="#E8892A"/><rect x="474" y="894.1" width="1" height="1.9" fill="#E8892A"/><rect x="475" y="894.6" width="1" height="1.4" fill="#E8892A"/><rect x="478" y="894.3" width="1" height="1.7" fill="#E8892A"/><rect x="484" y="893.6" width="1" height="2.4" fill="#E8892A"/><rect x="485" y="893.2" width="1" height="2.8" fill="#E8892A"/><rect x="490" y="892.2" width="1" height="3.8" fill="#E8892A"/><rect x="504" y="892.3" width="1" height="3.7" fill="#E8892A"/><rect x="521" y="893.1" width="1" height="2.9" fill="#E8892A"/><rect x="522" y="894.3" width="1" height="1.7" fill="#E8892A"/><rect x="525" y="890.7" width="1" height="5.3" fill="#E8892A"/><rect x="527" y="890.8" width="1" height="5.2" fill="#E8892A"/><rect x="539" y="894.9" width="1" height="1.1" fill="#E8892A"/><rect x="540" y="894.3" width="1" height="1.7" fill="#E8892A"/><rect x="559" y="894.3" width="1" height="1.7" fill="#E8892A"/><rect x="561" y="893.4" width="1" height="2.6" fill="#E8892A"/><rect x="567" y="894.6" width="1" height="1.4" fill="#E8892A"/><rect x="570" y="894.9" width="1" height="1.1" fill="#E8892A"/><rect x="574" y="893.6" width="1" height="2.4" fill="#E8892A"/><rect x="576" y="891.6" width="1" height="4.4" fill="#E8892A"/><rect x="578" y="893.3" width="1" height="2.7" fill="#E8892A"/><rect x="582" y="894.8" width="1" height="1.2" fill="#E8892A"/><rect x="594" y="892.6" width="1" height="3.4" fill="#E8892A"/><rect x="597" y="894.9" width="1" height="1.1" fill="#E8892A"/><rect x="610" y="893.3" width="1" height="2.7" fill="#E8892A"/><rect x="613" y="893.4" width="1" height="2.6" fill="#E8892A"/><rect x="615" y="892.9" width="1" height="3.1" fill="#E8892A"/><rect x="616" y="891.6" width="1" height="4.4" fill="#E8892A"/><rect x="618" y="891.3" width="1" height="4.7" fill="#E8892A"/><rect x="623" y="892.8" width="1" height="3.2" fill="#E8892A"/><rect x="624" y="891.2" width="1" height="4.8" fill="#E8892A"/><rect x="625" y="893.5" width="1" height="2.5" fill="#E8892A"/><rect x="626" y="891.4" width="1" height="4.6" fill="#E8892A"/><rect x="629" y="892.5" width="1" height="3.5" fill="#E8892A"/><rect x="630" y="891.5" width="1" height="4.5" fill="#E8892A"/><rect x="631" y="892.6" width="1" height="3.4" fill="#E8892A"/><rect x="634" y="893.6" width="1" height="2.4" fill="#E8892A"/><rect x="647" y="893.0" width="1" height="3.0" fill="#E8892A"/><rect x="648" y="894.7" width="1" height="1.3" fill="#E8892A"/><rect x="651" y="894.5" width="1" height="1.5" fill="#E8892A"/><rect x="654" y="894.2" width="1" height="1.8" fill="#E8892A"/><rect x="665" y="892.1" width="1" height="3.9" fill="#E8892A"/><rect x="666" y="894.9" width="1" height="1.1" fill="#E8892A"/><rect x="670" y="893.4" width="1" height="2.6" fill="#E8892A"/><rect x="680" y="892.1" width="1" height="3.9" fill="#E8892A"/><rect x="687" y="893.8" width="1" height="2.2" fill="#E8892A"/><rect x="689" y="893.1" width="1" height="2.9" fill="#E8892A"/><rect x="759" y="894.5" width="1" height="1.5" fill="#E8892A"/><rect x="772" y="893.5" width="1" height="2.5" fill="#E8892A"/><rect x="797" y="892.7" width="1" height="3.3" fill="#E8892A"/><rect x="864" y="894.0" width="1" height="2.0" fill="#E8892A"/><rect x="911" y="893.8" width="1" height="2.2" fill="#E8892A"/><rect x="935" y="892.0" width="1" height="4.0" fill="#E8892A"/><rect x="1005" y="893.1" width="1" height="2.9" fill="#E8892A"/><rect x="1024" y="893.8" width="1" height="2.2" fill="#E8892A"/><rect x="1025" y="892.1" width="1" height="3.9" fill="#E8892A"/><rect x="1042" y="893.3" width="1" height="2.7" fill="#E8892A"/><rect x="1043" y="889.4" width="1" height="6.6" fill="#E8892A"/><rect x="1045" y="892.1" width="1" height="3.9" fill="#E8892A"/><rect x="1046" y="889.4" width="1" height="6.6" fill="#E8892A"/><rect x="1047" y="892.2" width="1" height="3.8" fill="#E8892A"/><rect x="1048" y="890.8" width="1" height="5.2" fill="#E8892A"/><rect x="1049" y="889.2" width="1" height="6.8" fill="#E8892A"/><rect x="1050" y="891.2" width="1" height="4.8" fill="#E8892A"/><rect x="1051" y="893.1" width="1" height="2.9" fill="#E8892A"/><rect x="1052" y="889.6" width="1" height="6.4" fill="#E8892A"/><rect x="1053" y="892.8" width="1" height="3.2" fill="#E8892A"/><rect x="1055" y="891.4" width="1" height="4.6" fill="#E8892A"/><rect x="1056" y="892.7" width="1" height="3.3" fill="#E8892A"/><rect x="1058" y="891.4" width="1" height="4.6" fill="#E8892A"/><rect x="1059" y="892.4" width="1" height="3.6" fill="#E8892A"/><rect x="1064" y="894.1" width="1" height="1.9" fill="#E8892A"/><rect x="1065" y="892.7" width="1" height="3.3" fill="#E8892A"/><rect x="1066" y="889.5" width="1" height="6.5" fill="#E8892A"/><rect x="1145" y="892.6" width="1" height="3.4" fill="#E8892A"/><rect x="1246" y="894.7" width="1" height="1.3" fill="#E8892A"/><rect x="1254" y="894.0" width="1" height="2.0" fill="#E8892A"/><text x="115" y="889.2" text-anchor="middle" class="yr">1974</text><text x="251" y="889.2" text-anchor="middle" class="yr">1979</text><text x="386.7" y="889.2" text-anchor="middle" class="yr">1984</text><text x="522" y="889.2" text-anchor="middle" class="yr">1989</text><text x="657" y="889.2" text-anchor="middle" class="yr">1994</text><text x="793" y="889.2" text-anchor="middle" class="yr">1999</text><text x="929" y="889.2" text-anchor="middle" class="yr">2004</text><text x="1064" y="889.2" text-anchor="middle" class="yr">2009</text><text x="1199.7" y="889.2" text-anchor="middle" class="yr">2014</text>
</svg>
</body></html>
